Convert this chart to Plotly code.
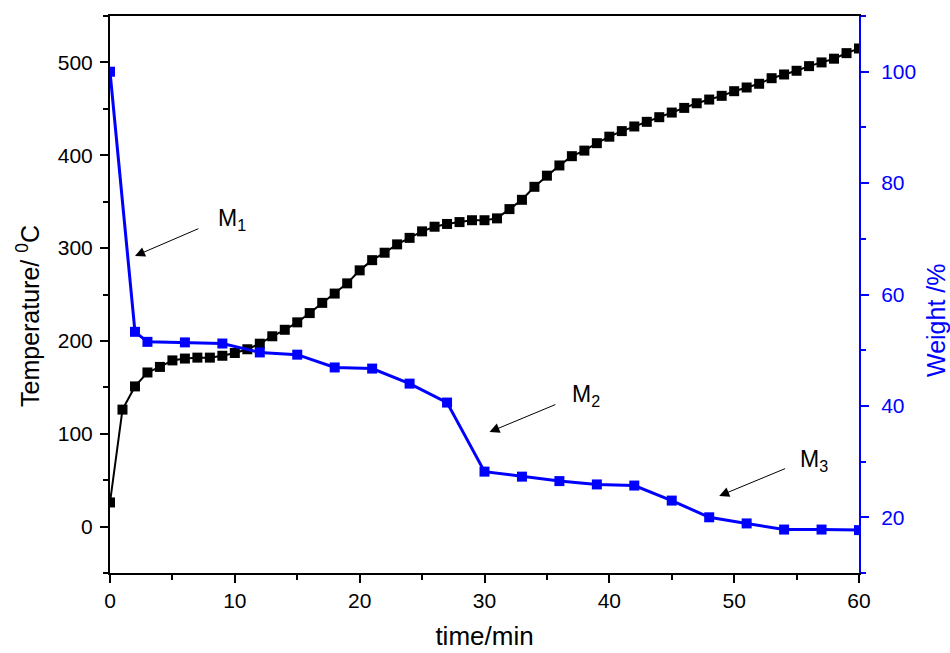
import plotly.graph_objects as go

# Temperature readings every minute
time_temp = list(range(0, 61))
temperature = [26, 126, 151, 166, 172, 179, 181, 182, 182, 184, 187, 191, 197, 205, 212,
               220, 230, 241, 251, 262, 276, 287, 295, 304, 311, 318, 323, 326, 328, 330,
               330, 332, 342, 352, 366, 378, 389, 399, 405, 413, 420, 426, 431, 436, 441,
               446, 451, 456, 460, 464, 469, 473, 477, 483, 487, 491, 496, 500, 504, 510, 515]

# Weight readings
time_weight = [0, 2, 3, 6, 9, 12, 15, 18, 21, 24, 27, 30, 33, 36, 39, 42, 45, 48, 51, 54, 57, 60]
weight = [100, 53.3, 51.5, 51.4, 51.2, 49.6, 49.2, 46.9, 46.7, 44.0, 40.6, 28.2, 27.3, 26.5,
          25.9, 25.7, 23.0, 20.0, 18.9, 17.8, 17.8, 17.7]

# Stage labels
stage_labels = ["M<sub>1</sub>", "M<sub>2</sub>", "M<sub>3</sub>"]

FONT = "Liberation Sans, Arial, sans-serif"
BLUE = "#0000FF"

fig = go.Figure()
fig.add_trace(go.Scatter(
    x=time_temp, y=temperature, mode="lines+markers",
    line=dict(color="black", width=2),
    marker=dict(symbol="square", size=10, color="black"),
    yaxis="y", showlegend=False))
fig.add_trace(go.Scatter(
    x=time_weight, y=weight, mode="lines+markers",
    line=dict(color=BLUE, width=3),
    marker=dict(symbol="square", size=10, color=BLUE),
    yaxis="y2", showlegend=False))

# label positions (data coords on temperature axis)
text_pos = [(9.8, 331), (38.1, 141), (56.4, 71)]
arrows = [((2.0, 291.5), (7.2, 321.6)),
          ((30.4, 101.9), (35.8, 132.1)),
          ((48.8, 33.0), (54.2, 63.1))]

annotations = []
for lbl, (tx, ty) in zip(stage_labels, text_pos):
    annotations.append(dict(x=tx, y=ty, xref="x", yref="y", text=lbl, showarrow=False,
                            font=dict(family=FONT, size=23, color="black"),
                            xanchor="center", yanchor="middle"))
for (head, tail) in arrows:
    annotations.append(dict(x=head[0], y=head[1], ax=tail[0], ay=tail[1],
                            xref="x", yref="y", axref="x", ayref="y",
                            text="", showarrow=True, arrowhead=2, arrowsize=2,
                            arrowwidth=1, arrowcolor="black", standoff=0))

# y-axis titles placed as rotated texts (plot area: x 110..859, y 16..573)
annotations.append(dict(x=(28 - 110) / 749, y=(573 - 316) / 557, xref="paper", yref="paper",
                        text="Temperature/ <sup>0</sup>C", textangle=-90, showarrow=False,
                        font=dict(family=FONT, size=25, color="black"),
                        xanchor="center", yanchor="middle"))
annotations.append(dict(x=(936 - 110) / 749, y=(573 - 320) / 557, xref="paper", yref="paper",
                        text="Weight /%", textangle=-90, showarrow=False,
                        font=dict(family=FONT, size=25, color=BLUE),
                        xanchor="center", yanchor="middle"))

fig.update_layout(
    width=950, height=653,
    margin=dict(l=110, r=91, t=16, b=80),
    paper_bgcolor="white", plot_bgcolor="white",
    font=dict(family=FONT, size=21, color="black"),
    xaxis=dict(
        range=[0, 60], dtick=10, tick0=0, automargin=False,
        showline=True, linecolor="black", linewidth=2, mirror=True,
        ticks="outside", ticklen=8, tickwidth=2, tickcolor="black",
        minor=dict(ticks="outside", ticklen=5, tickwidth=2, dtick=5, tickcolor="black"),
        showgrid=False, zeroline=False,
        tickfont=dict(family=FONT, size=21, color="black"),
        title=dict(text="time/min", font=dict(family=FONT, size=26, color="black"), standoff=16),
    ),
    yaxis=dict(
        range=[-50, 550], dtick=100, tick0=0, automargin=False,
        showline=True, linecolor="black", linewidth=2, mirror=False,
        ticks="outside", ticklen=8, tickwidth=2, tickcolor="black",
        minor=dict(ticks="outside", ticklen=5, tickwidth=2, dtick=50, tickcolor="black"),
        showgrid=False, zeroline=False, ticklabelstandoff=3,
        tickfont=dict(family=FONT, size=21, color="black"),
    ),
    yaxis2=dict(
        range=[10, 110], dtick=20, tick0=0, automargin=False,
        overlaying="y", side="right", anchor="x",
        showline=True, linecolor=BLUE, linewidth=2,
        ticks="outside", ticklen=8, tickwidth=2, tickcolor=BLUE,
        minor=dict(ticks="outside", ticklen=5, tickwidth=2, dtick=10, tickcolor=BLUE),
        showgrid=False, zeroline=False, ticklabelstandoff=8,
        tickfont=dict(family=FONT, size=21, color=BLUE),
    ),
    annotations=annotations,
)

fig.write_html(
    "out.html",
    config={"displayModeBar": False},
    post_script="document.body.style.margin='0';document.documentElement.style.overflow='hidden';",
)
